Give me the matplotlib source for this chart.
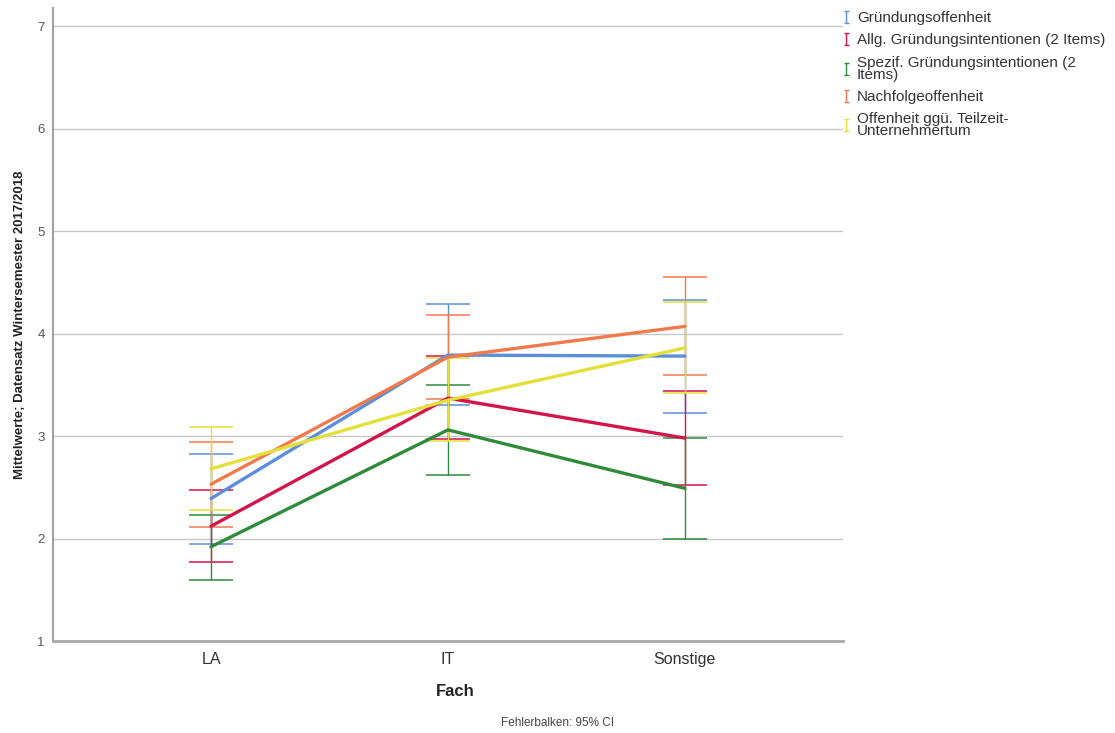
import matplotlib
matplotlib.use("Agg")
import matplotlib.pyplot as plt
from matplotlib.lines import Line2D
from matplotlib.path import Path

plt.rcParams["font.family"] = ["Liberation Sans", "DejaVu Sans"]

# Mittelwerte je Fach mit 95%-Konfidenzintervallen
categories = ["LA", "IT", "Sonstige"]

series_names = [
    "Gründungsoffenheit",
    "Allg. Gründungsintentionen (2 Items)",
    "Spezif. Gründungsintentionen (2\nItems)",
    "Nachfolgeoffenheit",
    "Offenheit ggü. Teilzeit-\nUnternehmertum",
]

gruendung_mean = [2.39, 3.79, 3.78]
gruendung_lo = [1.95, 3.30, 3.22]
gruendung_hi = [2.82, 4.29, 4.33]

allg_mean = [2.12, 3.37, 2.98]
allg_lo = [1.77, 2.97, 2.52]
allg_hi = [2.47, 3.78, 3.44]

spezif_mean = [1.92, 3.06, 2.49]
spezif_lo = [1.60, 2.62, 2.00]
spezif_hi = [2.23, 3.50, 2.98]

nachfolge_mean = [2.53, 3.77, 4.07]
nachfolge_lo = [2.11, 3.36, 3.60]
nachfolge_hi = [2.94, 4.18, 4.55]

teilzeit_mean = [2.68, 3.35, 3.86]
teilzeit_lo = [2.28, 2.95, 3.42]
teilzeit_hi = [3.09, 3.76, 4.31]

colors = ["#5b8fdc", "#d2154a", "#2f8a3a", "#f07a4c", "#e4e03a"]

means = [gruendung_mean, allg_mean, spezif_mean, nachfolge_mean, teilzeit_mean]
lows = [gruendung_lo, allg_lo, spezif_lo, nachfolge_lo, teilzeit_lo]
highs = [gruendung_hi, allg_hi, spezif_hi, nachfolge_hi, teilzeit_hi]

fig = plt.figure(figsize=(11.15, 7.33), dpi=100)
ax = fig.add_axes([0.0475, 0.1255, 0.7085, 0.8635])

x = list(range(len(categories)))

# Fehlerbalken zuerst, Linien darüber
for m, lo, hi, c in zip(means, lows, highs, colors):
    yerr = [[mi - l for mi, l in zip(m, lo)], [h - mi for mi, h in zip(m, hi)]]
    ax.errorbar(x, m, yerr=yerr, fmt="none", ecolor=c, elinewidth=1.0,
                capsize=16, capthick=1.1, zorder=2)

for m, c in zip(means, colors):
    ax.plot(x, m, color=c, lw=2.4, solid_capstyle="round", zorder=3)

ax.set_xlim(-0.667, 2.667)
ax.set_ylim(1, 7.176)
ax.set_yticks(range(1, 8))
ax.set_xticks(x)
ax.set_xticklabels(categories)
ax.tick_params(axis="x", length=0, labelsize=11.5, labelcolor="#333333", pad=8)
ax.tick_params(axis="y", length=0, labelsize=9.5, labelcolor="#555555", pad=6)

for yv in range(2, 8):
    ax.axhline(yv, color="#c8c8c8", lw=1.0, zorder=1)

for side in ("top", "right"):
    ax.spines[side].set_visible(False)
ax.spines["left"].set_color("#a0a0a0")
ax.spines["left"].set_linewidth(1.5)
ax.spines["bottom"].set_color("#a8a8a8")
ax.spines["bottom"].set_linewidth(2.0)

ax.set_ylabel("Mittelwerte; Datensatz Wintersemester 2017/2018",
              fontsize=9.5, fontweight="bold", color="#222222")
ax.yaxis.set_label_coords(-0.034, 0.5)
ax.set_xlabel("Fach", fontsize=12, fontweight="bold", color="#222222")
ax.xaxis.set_label_coords(0.509, -0.068)

fig.text(0.5, 0.0136, "Fehlerbalken: 95% CI", fontsize=8.5, color="#444444",
         ha="center", va="center")

# Legendensymbol in Form eines Fehlerbalkens
i_bar = Path(
    [(-0.4, 1), (0.4, 1), (0, 1), (0, -1), (-0.4, -1), (0.4, -1)],
    [Path.MOVETO, Path.LINETO, Path.MOVETO, Path.LINETO, Path.MOVETO, Path.LINETO],
)
handles = [
    Line2D([], [], linestyle="none", marker=i_bar, markersize=9,
           markeredgecolor=c, markerfacecolor="none", markeredgewidth=1.0)
    for c in colors
]
leg = fig.legend(handles, series_names, loc="upper left",
                 bbox_to_anchor=(0.755, 0.985), frameon=False, fontsize=11,
                 handlelength=0.6, handletextpad=0.4, labelspacing=0.55,
                 borderaxespad=0.0, borderpad=0.0)
for t in leg.get_texts():
    t.set_color("#333333")
    t.set_linespacing(0.8)

fig.savefig("out.png", dpi=100)
